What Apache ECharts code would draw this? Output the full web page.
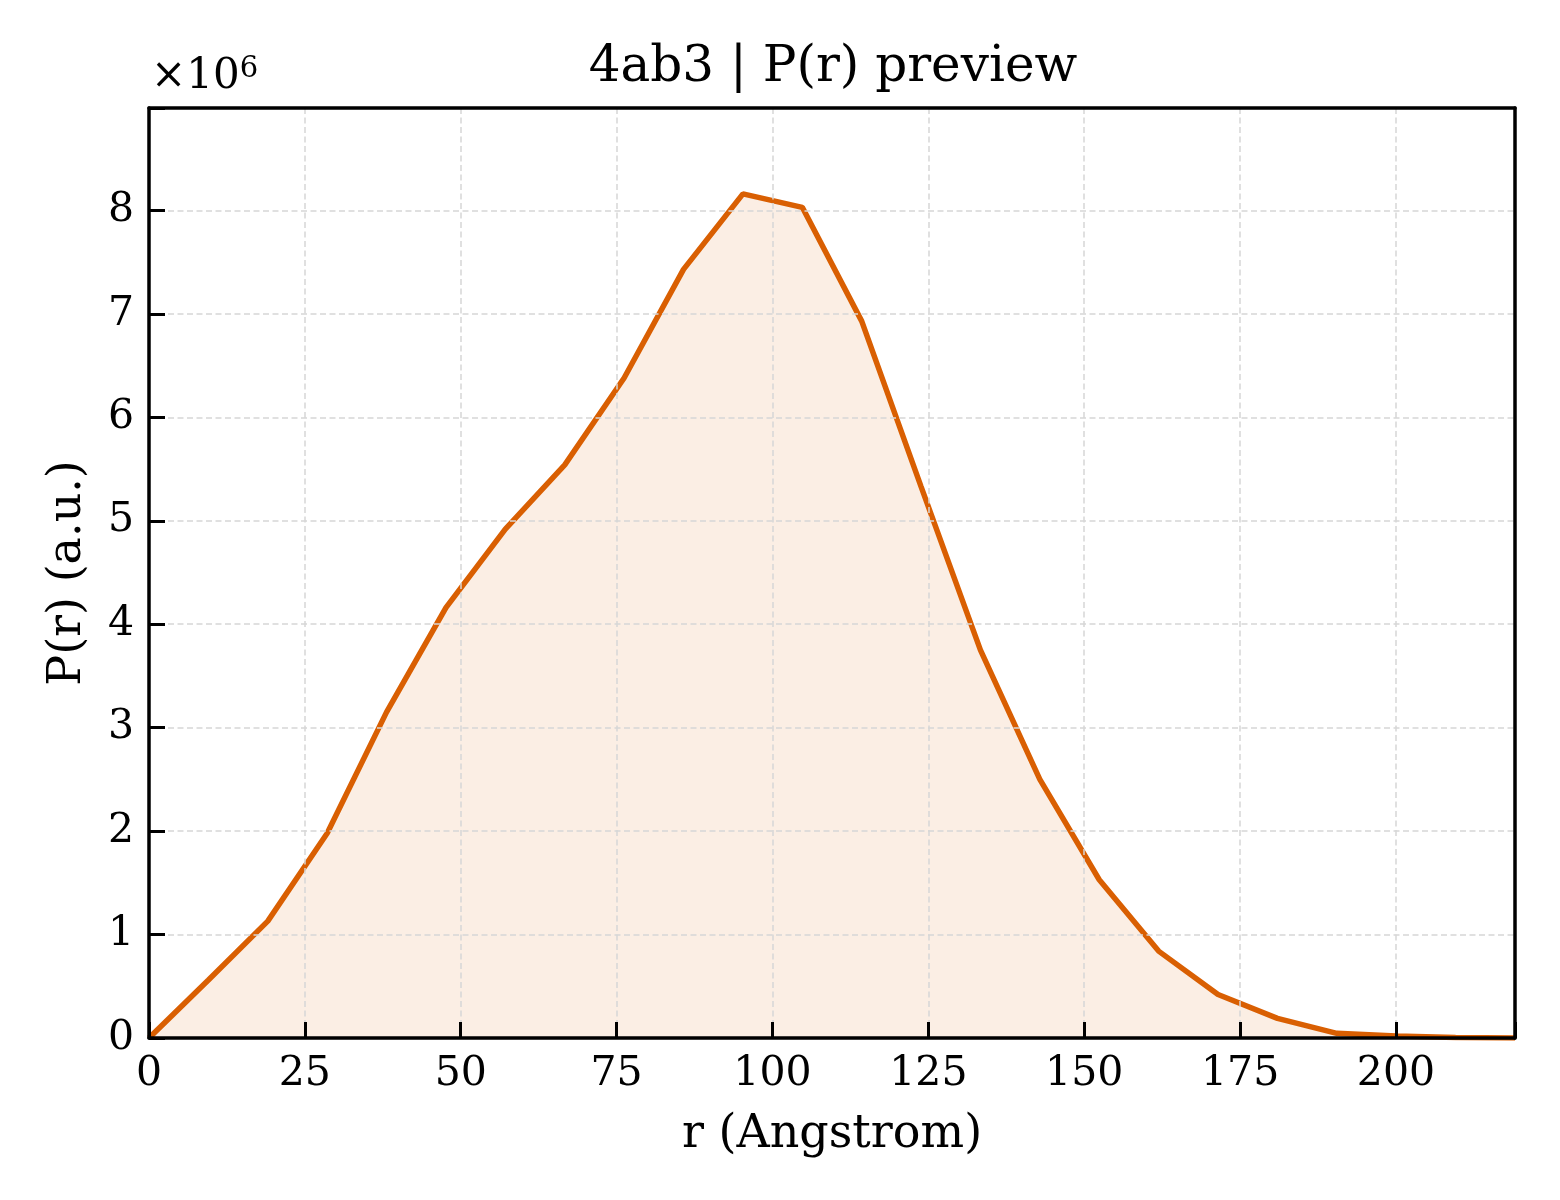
<!DOCTYPE html>
<html>
<head>
<meta charset="utf-8">
<script src="https://cdn.jsdelivr.net/npm/echarts@6/dist/echarts.min.js"></script>
<style>
html,body{margin:0;padding:0;background:#fff;}
#chart{width:1560px;height:1200px;}
</style>
</head>
<body>
<div id="chart"></div>
<script>
// r values (Angstrom)
const rValues = [0, 9.53, 19.05, 28.58, 38.10, 47.63, 57.15, 66.68, 76.20, 85.73, 95.26, 104.78,
  114.31, 123.83, 133.36, 142.88, 152.41, 161.93, 171.46, 180.99, 190.51, 200.04, 209.56, 219.09];
// P(r) values in units of 1e6
const pValues = [0, 0.56, 1.13, 1.98, 3.15, 4.16, 4.92, 5.54, 6.38, 7.43, 8.16, 8.03,
  6.93, 5.33, 3.75, 2.50, 1.53, 0.84, 0.42, 0.19, 0.045, 0.02, 0.004, 0];
const xTicks = [0, 25, 50, 75, 100, 125, 150, 175, 200];
const yTicks = [0, 1, 2, 3, 4, 5, 6, 7, 8];

const titleText = '4ab3 | P(r) preview';
const xName = 'r (Angstrom)';
const yName = 'P(r) (a.u.)';

const FONT = 'DejaVu Serif';
const lineColor = '#d95f02';
const X_MAX = 219.09;
const Y_MAX = 8.99;

const chart = echarts.init(document.getElementById('chart'));
const seriesData = rValues.map((r, i) => [r, pValues[i]]);

const gridStyle = {color: '#d6d6d6', width: 1.5, type: [6, 3.5]};
const frameAxis = (extra) => Object.assign({
  type: 'value',
  axisLine: {show: true, onZero: false, lineStyle: {color: '#000', width: 3.5}},
  axisTick: {show: false},
  axisLabel: {show: false},
  splitLine: {show: false},
  z: 10
}, extra);

const option = {
  animation: false,
  backgroundColor: '#fff',
  title: {
    text: titleText,
    left: 828,
    textAlign: 'center',
    top: 38,
    textStyle: {fontFamily: FONT, fontSize: 50, fontWeight: 'normal', color: '#000'}
  },
  graphic: [{
    type: 'text',
    left: 151,
    top: 55,
    style: {
      text: '×10{sup|6}',
      fontFamily: FONT,
      fontSize: 42,
      fill: '#000',
      rich: {sup: {fontFamily: FONT, fontSize: 29, verticalAlign: 'top', padding: [0, 0, 16, 0]}}
    }
  }],
  grid: {
    left: 149, right: 45, top: 108, bottom: 162,
    show: false
  },
  xAxis: [{
    type: 'value',
    min: 0,
    max: X_MAX,
    interval: 25,
    name: xName,
    nameLocation: 'middle',
    nameGap: 74,
    nameTextStyle: {fontFamily: FONT, fontSize: 46, color: '#000'},
    axisLine: {show: true, lineStyle: {color: '#000', width: 3.5}},
    axisTick: {show: true, inside: true, length: 16, lineStyle: {color: '#000', width: 3}},
    axisLabel: {
      fontFamily: FONT, fontSize: 41, color: '#000', margin: 16,
      formatter: v => xTicks.includes(Math.round(v * 1000) / 1000) ? String(v) : ''
    },
    splitLine: {show: true, lineStyle: gridStyle},
    z: 5
  }, frameAxis({position: 'top', min: 0, max: X_MAX})],
  yAxis: [{
    type: 'value',
    min: 0,
    max: Y_MAX,
    interval: 1,
    name: yName,
    nameLocation: 'middle',
    nameGap: 58,
    nameRotate: 90,
    nameTextStyle: {fontFamily: FONT, fontSize: 46, color: '#000'},
    axisLine: {show: true, lineStyle: {color: '#000', width: 3.5}},
    axisTick: {show: true, inside: true, length: 16, lineStyle: {color: '#000', width: 3}},
    axisLabel: {
      fontFamily: FONT, fontSize: 41, color: '#000', margin: 15,
      formatter: v => yTicks.includes(Math.round(v * 1000) / 1000) ? String(v) : ''
    },
    splitLine: {show: true, lineStyle: gridStyle},
    z: 5
  }, frameAxis({position: 'right', min: 0, max: Y_MAX})],
  series: [{
    type: 'line',
    data: seriesData,
    xAxisIndex: 0,
    yAxisIndex: 0,
    showSymbol: false,
    symbol: 'none',
    lineStyle: {color: lineColor, width: 5.5},
    areaStyle: {color: 'rgba(217,95,2,0.15)', origin: 'start'},
    z: 3
  }]
};
chart.setOption(option);
</script>
</body>
</html>
